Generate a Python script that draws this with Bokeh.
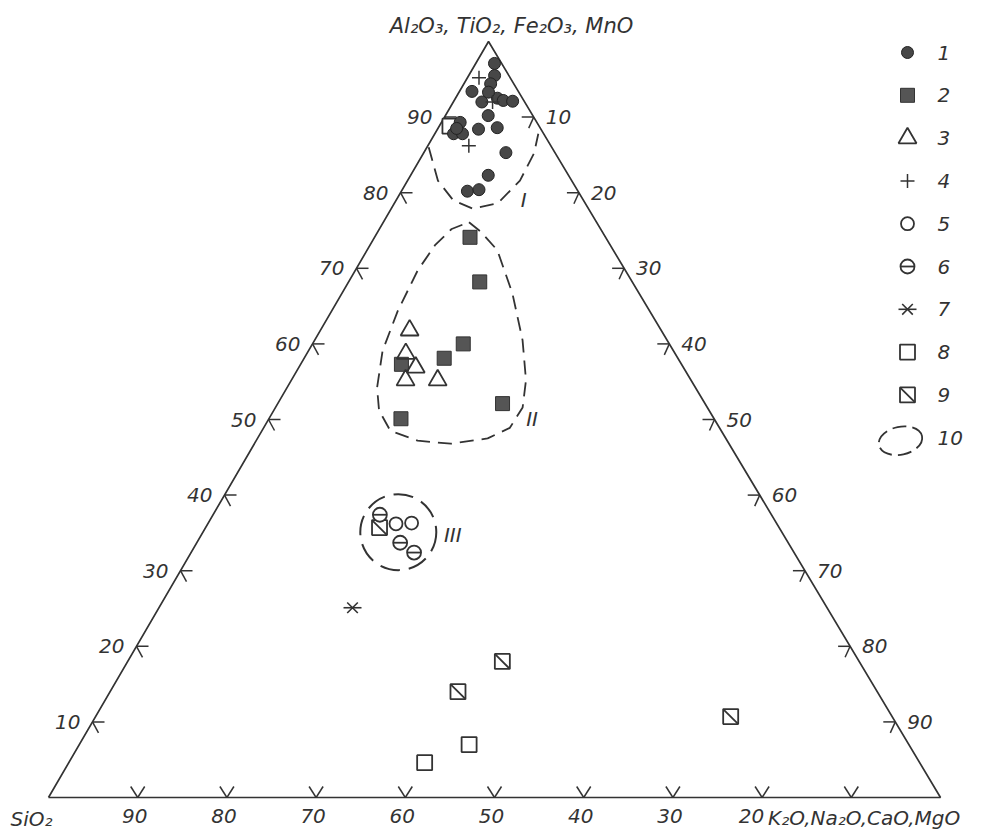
import numpy as np
from bokeh.plotting import figure
from bokeh.models import Range1d
from bokeh.embed import file_html
from bokeh.resources import INLINE
from bokeh.core.properties import value

# ---------------- data (percent) ----------------
# components: SiO2 | Al2O3+TiO2+Fe2O3+MnO | K2O+Na2O+CaO+MgO
g1_sio2 = [0.8, 1.6, 2.6, 5.2, 4.8, 2.8, 2.3, 1.3, 5.0, 4.8, 7.0, 8.6, 10.1, 9.1, 9.4, 5.5, 9.0, 12.4, 11.0, 3.4]
g1_al = [97.1, 95.5, 94.4, 93.4, 92.0, 92.5, 92.2, 92.1, 90.2, 88.6, 88.4, 89.3, 87.8, 87.8, 88.5, 85.3, 82.3, 80.2, 80.4, 93.3]
g1_alk = [2.1, 2.9, 3.0, 1.4, 3.2, 4.7, 5.5, 6.6, 4.8, 6.6, 4.6, 2.1, 2.1, 3.1, 2.1, 9.2, 8.7, 7.4, 8.6, 3.3]

g2_sio2 = [15.2, 17.1, 23.1, 26.2, 31.4, 22.7, 35.1]
g2_al = [74.1, 68.2, 60.0, 58.1, 57.3, 52.1, 50.1]
g2_alk = [10.7, 14.7, 16.9, 15.7, 11.3, 25.2, 14.8]

g3_sio2 = [28.2, 30.2, 30.0, 32.0, 28.4]
g3_al = [61.8, 58.7, 56.9, 55.2, 55.2]
g3_alk = [10.0, 11.1, 13.1, 12.8, 16.4]

g4_sio2 = [3.5, 9.2, 3.6]
g4_al = [95.2, 86.2, 92.0]
g4_alk = [1.3, 4.6, 4.4]

g5_sio2 = [42.7, 40.9]
g5_al = [36.2, 36.3]
g5_alk = [21.1, 22.8]

g6_sio2 = [43.9, 43.5, 42.6]
g6_al = [37.4, 33.7, 32.4]
g6_alk = [18.7, 22.8, 25.0]

g7_sio2 = [53.2]
g7_al = [25.1]
g7_alk = [21.7]

g8_sio2 = [10.0, 49.3, 55.5]
g8_al = [88.8, 7.0, 4.6]
g8_alk = [1.2, 43.7, 39.9]

g9_sio2 = [44.8, 40.0, 47.0, 18.1]
g9_al = [35.7, 18.0, 14.0, 10.7]
g9_alk = [19.5, 42.0, 39.0, 71.2]

# outlines of fields I and II (Al-group %, alkali-group %)
field1_al = [86.0, 81.6, 79.0, 77.9, 78.6, 81.6, 85.2, 87.8]
field1_alk = [0.2, 3.4, 6.4, 9.1, 11.6, 12.6, 12.4, 11.6]
field2_al = [76.1, 74.8, 72.4, 66.7, 60.5, 55.2, 51.6, 48.9, 47.5, 46.8, 47.2, 48.5, 51.2, 54.2, 59.1, 64.4, 69.7, 73.1, 75.2, 76.1]
field2_alk = [9.6, 11.6, 14.6, 19.1, 23.3, 26.3, 27.7, 27.6, 25.8, 22.0, 18.1, 14.4, 11.8, 10.1, 8.3, 7.4, 7.0, 7.3, 8.1, 9.6]
field3_center = (43.0, 35.1, 21.9)  # SiO2, Al, alkali

field_labels = ["I", "II", "III"]
field_label_al = [79.0, 50.1, 34.7]
field_label_alk = [14.3, 29.5, 28.2]

tick_values = [10, 20, 30, 40, 50, 60, 70, 80, 90]
legend_labels = ["1", "2", "3", "4", "5", "6", "7", "8", "9", "10"]

top_label = "Al\u2082O\u2083, TiO\u2082, Fe\u2082O\u2083, MnO"
left_label = "SiO\u2082"
right_label = "K\u2082O,Na\u2082O,CaO,MgO"

# ---------------- geometry ----------------
W, H = 991, 831
OX, OY = 48.0, 797.0        # pixel position of the SiO2 corner
SX, SY = 8.92, 7.56         # pixels per percent unit (x, y)
APEX = 0.4933               # horizontal position of the apex (fraction of base)

INK = "#333333"
FONT = value("DejaVu Sans")


def tern(s, a, k):
    s = np.asarray(s, float); a = np.asarray(a, float); k = np.asarray(k, float)
    t = s + a + k
    af = a / t * 100.0
    kf = k / t * 100.0
    return kf + APEX * af, af


def tern2(a, k):
    a = np.asarray(a, float); k = np.asarray(k, float)
    return tern(100.0 - a - k, a, k)


def off(x, y, dx, dy):
    """offset data point by screen pixels (dy positive = down)"""
    return np.asarray(x) + dx / SX, np.asarray(y) - dy / SY


def px(xp, yp):
    return (xp - OX) / SX, (OY - yp) / SY


p = figure(width=W, height=H,
           x_range=Range1d(-OX / SX, (W - OX) / SX),
           y_range=Range1d(-(H - OY) / SY, OY / SY),
           x_axis_type=None, y_axis_type=None,
           toolbar_location=None, output_backend="svg",
           min_border=0, outline_line_color=None)
p.background_fill_color = "white"
p.border_fill_color = "white"

# ---------------- triangle ----------------
cx, cy = tern([100, 0, 0, 100], [0, 100, 0, 0], [0, 0, 100, 0])
p.line(cx, cy, line_color=INK, line_width=1.7)

tv = np.array(tick_values, float)
# left side (Al-group scale)
lx, ly = tern(100 - tv, tv, 0 * tv)
for dx, dy in [(12, 0), (6, 11)]:
    ex, ey = off(lx, ly, dx, dy)
    p.segment(lx, ly, ex, ey, line_color=INK, line_width=1.5)
tx, ty = off(lx, ly, -12, 0)
p.text(tx, ty, text=[str(int(v)) for v in tv], text_font=FONT, text_font_style="italic",
       text_font_size="20px", text_color=INK, text_align="right", text_baseline="middle")
# right side (alkali scale)
rx, ry = tern(0 * tv, 100 - tv, tv)
for dx, dy in [(-12, 0), (-5, 11)]:
    ex, ey = off(rx, ry, dx, dy)
    p.segment(rx, ry, ex, ey, line_color=INK, line_width=1.5)
tx, ty = off(rx, ry, 12, 0)
p.text(tx, ty, text=[str(int(v)) for v in tv], text_font=FONT, text_font_style="italic",
       text_font_size="20px", text_color=INK, text_align="left", text_baseline="middle")
# bottom (SiO2 scale)
bx, by = tern(tv, 0 * tv, 100 - tv)
for dx, dy in [(-7, -11), (7, -11)]:
    ex, ey = off(bx, by, dx, dy)
    p.segment(bx, by, ex, ey, line_color=INK, line_width=1.5)
keep = tv >= 30
tx, ty = off(bx[keep], by[keep], -3, 18)
p.text(tx, ty, text=[str(int(v)) for v in tv[keep]], text_font=FONT, text_font_style="italic",
       text_font_size="20px", text_color=INK, text_align="center", text_baseline="middle")
i20 = tick_values.index(20)
tx, ty = off(bx[i20], by[i20], 2, 18)
p.text([tx], [ty], text=["20"], text_font=FONT, text_font_style="italic",
       text_font_size="20px", text_color=INK, text_align="right", text_baseline="middle")
tx, ty = off(bx[i20], by[i20], 6, 20)
p.text([tx], [ty], text=[right_label], text_font=FONT, text_font_style="italic",
       text_font_size="20px", text_color=INK, text_align="left", text_baseline="alphabetic")
# corner labels
sx0, sy0 = tern([100], [0], [0])
tx, ty = off(sx0, sy0, -38, 21)
p.text(tx, ty, text=[left_label], text_font=FONT, text_font_style="italic",
       text_font_size="20px", text_color=INK, text_align="left", text_baseline="alphabetic")
ax0, ay0 = tern([0], [100], [0])
tx, ty = off(ax0, ay0, 23, -16)
p.text(tx, ty, text=[top_label], text_font=FONT, text_font_style="italic",
       text_font_size="21px", text_color=INK, text_align="center", text_baseline="alphabetic")

# ---------------- fields ----------------
fx, fy = tern2(field1_al, field1_alk)
p.line(fx, fy, line_color=INK, line_width=1.8, line_dash="14 8")
fx, fy = tern2(field2_al, field2_alk)
p.line(fx, fy, line_color=INK, line_width=1.8, line_dash="14 8")
fx, fy = tern(*[[v] for v in field3_center])
p.ellipse(fx, fy, width=76 / SX, height=76 / SY, fill_color=None, line_color=INK,
          line_width=2, line_dash="20 9")
fx, fy = tern2(field_label_al, field_label_alk)
p.text(fx, fy, text=field_labels, text_font=FONT, text_font_style="italic",
       text_font_size="20px", text_color=INK, text_align="center", text_baseline="middle")


# ---------------- markers ----------------
def draw(kind, x, y):
    if kind == 1:
        p.scatter(x, y, marker="circle", size=12, fill_color="#474747", line_color="#222222", line_width=1)
    elif kind == 2:
        p.scatter(x, y, marker="square", size=14, fill_color="#555555", line_color="#333333", line_width=1)
    elif kind == 3:
        p.scatter(x, y, marker="triangle", size=18, fill_color=None, line_color=INK, line_width=1.8)
    elif kind == 4:
        p.scatter(x, y, marker="cross", size=14, line_color=INK, line_width=1.5)
    elif kind == 5:
        p.scatter(x, y, marker="circle", size=13, fill_color="white", line_color=INK, line_width=1.8)
    elif kind == 6:
        p.scatter(x, y, marker="circle", size=14, fill_color="white", line_color=INK, line_width=1.8)
        p.scatter(x, y, marker="dash", size=14, line_color=INK, line_width=1.8)
    elif kind == 7:
        p.scatter(x, y, marker="x", size=15, line_color=INK, line_width=1.6)
        p.scatter(x, y, marker="dash", size=18, line_color=INK, line_width=1.6)
    elif kind == 8:
        p.scatter(x, y, marker="square", size=15, fill_color="white", line_color=INK, line_width=1.8)
    elif kind == 9:
        p.scatter(x, y, marker="square", size=15, fill_color="white", line_color=INK, line_width=1.8)
        p.scatter(x, y, marker="dash", size=20, angle=-45, angle_units="deg", line_color=INK, line_width=1.8)


groups = [
    (8, g8_sio2, g8_al, g8_alk),
    (1, g1_sio2, g1_al, g1_alk),
    (4, g4_sio2, g4_al, g4_alk),
    (2, g2_sio2, g2_al, g2_alk),
    (3, g3_sio2, g3_al, g3_alk),
    (5, g5_sio2, g5_al, g5_alk),
    (9, g9_sio2, g9_al, g9_alk),
    (6, g6_sio2, g6_al, g6_alk),
    (7, g7_sio2, g7_al, g7_alk),
]
for kind, s, a, k in groups:
    x, y = tern(s, a, k)
    draw(kind, x, y)

# ---------------- legend ----------------
for i, lab in enumerate(legend_labels):
    ly_px = 52 + i * 42.8
    mx, my = px(907, ly_px)
    if i < 9:
        draw(i + 1, [mx], [my])
    else:
        ex, ey = px(900, ly_px + 3)
        p.ellipse([ex], [ey], width=44 / SX, height=28 / SY, angle=12, angle_units="deg",
                  fill_color=None, line_color=INK, line_width=1.8, line_dash="14 6")
    tx, ty = px(937, ly_px)
    p.text([tx], [ty], text=[lab], text_font=FONT, text_font_style="italic",
           text_font_size="20px", text_color=INK, text_align="left", text_baseline="middle")

open("out.html", "w").write(file_html(p, INLINE, title="Ternary diagram"))
